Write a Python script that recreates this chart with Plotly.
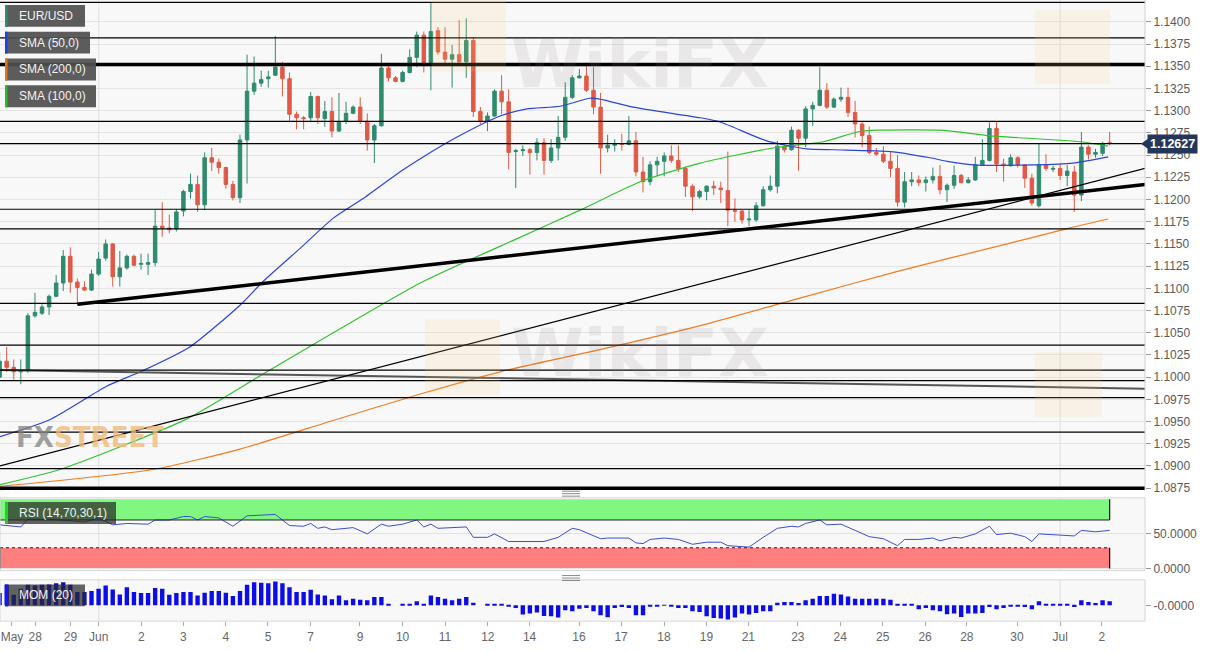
import plotly.graph_objects as go

# ---------------- DATA ----------------
bar_open = [1.1000, 1.1018, 1.1011, 1.1006, 1.1007, 1.1069, 1.1072, 1.1079, 1.1091, 1.1106,
            1.1136, 1.1107, 1.1101, 1.1098, 1.1116, 1.1134, 1.1150, 1.1113, 1.1123, 1.1136,
            1.1127, 1.1127, 1.1129, 1.1170, 1.1168, 1.1167, 1.1187, 1.1209, 1.1217, 1.1194,
            1.1247, 1.1242, 1.1236, 1.1217, 1.1202, 1.1267, 1.1322, 1.1331, 1.1336, 1.1340,
            1.1349, 1.1336, 1.1296, 1.1292, 1.1292, 1.1316, 1.1291, 1.1299, 1.1277, 1.1288,
            1.1297, 1.1304, 1.1288, 1.1267, 1.1283, 1.1348, 1.1337, 1.1333, 1.1343, 1.1360,
            1.1385, 1.1354, 1.1390, 1.1366, 1.1358, 1.1363, 1.1355, 1.1379, 1.1299, 1.1288,
            1.1294, 1.1322, 1.1310, 1.1254, 1.1255, 1.1256, 1.1253, 1.1264, 1.1244, 1.1258,
            1.1270, 1.1315, 1.1337, 1.1339, 1.1323, 1.1304, 1.1258, 1.1261, 1.1263, 1.1262,
            1.1266, 1.1231, 1.1220, 1.1239, 1.1243, 1.1249, 1.1244, 1.1235, 1.1215, 1.1203,
            1.1209, 1.1215, 1.1213, 1.1210, 1.1188, 1.1187, 1.1177, 1.1177, 1.1193, 1.1211,
            1.1215, 1.1260, 1.1256, 1.1278, 1.1269, 1.1302, 1.1306, 1.1323, 1.1304, 1.1313,
            1.1315, 1.1298, 1.1285, 1.1272, 1.1253, 1.1251, 1.1243, 1.1235, 1.1197, 1.1220,
            1.1222, 1.1219, 1.1222, 1.1226, 1.1211, 1.1216, 1.1227, 1.1219, 1.1222, 1.1239,
            1.1244, 1.1280, 1.1240, 1.1238, 1.1247, 1.1239, 1.1224, 1.1193, 1.1239, 1.1234,
            1.1235, 1.1227, 1.1231, 1.1205, 1.1259, 1.1251, 1.1252, 1.1264]
bar_high = [1.1028, 1.1034, 1.1020, 1.1020, 1.1072, 1.1095, 1.1082, 1.1093, 1.1115, 1.1143,
            1.1146, 1.1111, 1.1108, 1.1121, 1.1141, 1.1155, 1.1151, 1.1142, 1.1138, 1.1138,
            1.1139, 1.1139, 1.1188, 1.1197, 1.1183, 1.1189, 1.1211, 1.1229, 1.1227, 1.1253,
            1.1258, 1.1246, 1.1237, 1.1221, 1.1273, 1.1363, 1.1361, 1.1345, 1.1345, 1.1384,
            1.1355, 1.1343, 1.1299, 1.1294, 1.1321, 1.1317, 1.1311, 1.1315, 1.1320, 1.1310,
            1.1306, 1.1315, 1.1297, 1.1285, 1.1364, 1.1354, 1.1339, 1.1345, 1.1369, 1.1389,
            1.1389, 1.1421, 1.1394, 1.1394, 1.1374, 1.1402, 1.1404, 1.1383, 1.1304, 1.1298,
            1.1324, 1.1340, 1.1324, 1.1257, 1.1261, 1.1258, 1.1269, 1.1269, 1.1268, 1.1294,
            1.1332, 1.1340, 1.1347, 1.1354, 1.1349, 1.1320, 1.1273, 1.1268, 1.1274, 1.1294,
            1.1276, 1.1248, 1.1243, 1.1248, 1.1253, 1.1261, 1.1261, 1.1237, 1.1217, 1.1211,
            1.1216, 1.1221, 1.1220, 1.1254, 1.1201, 1.1188, 1.1188, 1.1197, 1.1215, 1.1227,
            1.1266, 1.1261, 1.1282, 1.1279, 1.1305, 1.1310, 1.1349, 1.1331, 1.1315, 1.1326,
            1.1326, 1.1311, 1.1287, 1.1282, 1.1258, 1.1260, 1.1254, 1.1250, 1.1231, 1.1231,
            1.1227, 1.1226, 1.1236, 1.1239, 1.1218, 1.1238, 1.1229, 1.1225, 1.1248, 1.1268,
            1.1287, 1.1288, 1.1246, 1.1251, 1.1249, 1.1240, 1.1229, 1.1263, 1.1251, 1.1238,
            1.1240, 1.1239, 1.1238, 1.1276, 1.1261, 1.1257, 1.1265, 1.1276]
bar_low = [1.0998, 1.1006, 1.0997, 1.0992, 1.1005, 1.1067, 1.1070, 1.1070, 1.1090, 1.1097,
           1.1095, 1.1082, 1.1097, 1.1097, 1.1114, 1.1131, 1.1102, 1.1102, 1.1121, 1.1125,
           1.1121, 1.1115, 1.1125, 1.1158, 1.1162, 1.1164, 1.1181, 1.1201, 1.1186, 1.1188,
           1.1232, 1.1229, 1.1212, 1.1199, 1.1196, 1.1218, 1.1318, 1.1327, 1.1326, 1.1339,
           1.1316, 1.1287, 1.1279, 1.1279, 1.1287, 1.1285, 1.1282, 1.1270, 1.1276, 1.1285,
           1.1296, 1.1285, 1.1255, 1.1241, 1.1282, 1.1333, 1.1332, 1.1332, 1.1342, 1.1349,
           1.1343, 1.1323, 1.1363, 1.1352, 1.1326, 1.1352, 1.1337, 1.1293, 1.1285, 1.1277,
           1.1293, 1.1296, 1.1234, 1.1213, 1.1249, 1.1228, 1.1244, 1.1228, 1.1241, 1.1244,
           1.1266, 1.1313, 1.1336, 1.1321, 1.1296, 1.1229, 1.1253, 1.1254, 1.1255, 1.1261,
           1.1226, 1.1208, 1.1216, 1.1226, 1.1226, 1.1241, 1.1231, 1.1203, 1.1187, 1.1201,
           1.1199, 1.1205, 1.1196, 1.1170, 1.1175, 1.1173, 1.1170, 1.1175, 1.1192, 1.1209,
           1.1207, 1.1253, 1.1255, 1.1232, 1.1259, 1.1283, 1.1305, 1.1302, 1.1303, 1.1310,
           1.1293, 1.1270, 1.1259, 1.1251, 1.1249, 1.1241, 1.1225, 1.1192, 1.1191, 1.1215,
           1.1215, 1.1209, 1.1218, 1.1206, 1.1197, 1.1212, 1.1218, 1.1218, 1.1221, 1.1239,
           1.1243, 1.1231, 1.1220, 1.1237, 1.1236, 1.1213, 1.1193, 1.1191, 1.1232, 1.1231,
           1.1222, 1.1215, 1.1186, 1.1198, 1.1245, 1.1247, 1.1249, 1.1261]
bar_close = [1.1018, 1.1011, 1.1006, 1.1007, 1.1069, 1.1073, 1.1079, 1.1091, 1.1106, 1.1136,
             1.1107, 1.1101, 1.1098, 1.1116, 1.1133, 1.1150, 1.1113, 1.1123, 1.1136, 1.1126,
             1.1128, 1.1129, 1.1170, 1.1168, 1.1166, 1.1186, 1.1209, 1.1217, 1.1194, 1.1247,
             1.1242, 1.1236, 1.1217, 1.1202, 1.1267, 1.1322, 1.1331, 1.1335, 1.1338, 1.1349,
             1.1336, 1.1296, 1.1292, 1.1291, 1.1316, 1.1292, 1.1299, 1.1277, 1.1287, 1.1297,
             1.1304, 1.1288, 1.1267, 1.1283, 1.1348, 1.1337, 1.1333, 1.1343, 1.1360, 1.1385,
             1.1354, 1.1389, 1.1366, 1.1358, 1.1363, 1.1355, 1.1379, 1.1299, 1.1288, 1.1294,
             1.1322, 1.1310, 1.1253, 1.1255, 1.1256, 1.1253, 1.1264, 1.1244, 1.1258, 1.1270,
             1.1315, 1.1337, 1.1339, 1.1323, 1.1304, 1.1258, 1.1261, 1.1263, 1.1262, 1.1266,
             1.1231, 1.1220, 1.1239, 1.1243, 1.1249, 1.1244, 1.1235, 1.1215, 1.1203, 1.1209,
             1.1215, 1.1213, 1.1211, 1.1188, 1.1187, 1.1177, 1.1178, 1.1193, 1.1211, 1.1215,
             1.1260, 1.1256, 1.1278, 1.1269, 1.1302, 1.1306, 1.1323, 1.1304, 1.1313, 1.1315,
             1.1298, 1.1285, 1.1272, 1.1253, 1.1251, 1.1243, 1.1235, 1.1197, 1.1220, 1.1222,
             1.1219, 1.1222, 1.1226, 1.1211, 1.1216, 1.1227, 1.1219, 1.1222, 1.1239, 1.1244,
             1.1280, 1.1240, 1.1238, 1.1247, 1.1239, 1.1224, 1.1196, 1.1239, 1.1235, 1.1235,
             1.1227, 1.1232, 1.1205, 1.1259, 1.1251, 1.1253, 1.1263, 1.1263]
bar_index = list(range(len(bar_open)))

sma50_x = [0.06, 7.1, 15.2, 19.9, 26.9, 34.0, 37.3, 42.5, 47.2, 51.4, 56.6, 59.5, 65.1, 70.8,
           74.6, 79.3, 83.5, 84.9, 89.6, 99.1, 102.0, 108.5, 114.2, 118.0, 126.0, 131.6, 134.0,
           137.7, 146.2, 151.8, 156.8]
sma50_y = [1.0933, 1.0952, 1.0990, 1.1006, 1.1034, 1.1081, 1.1108, 1.1145, 1.1179, 1.1201,
           1.1231, 1.1246, 1.1272, 1.1294, 1.1302, 1.1305, 1.1314, 1.1313, 1.1304, 1.1292,
           1.1287, 1.1266, 1.1257, 1.1256, 1.1254, 1.1247, 1.1243, 1.1239, 1.1239, 1.1241,
           1.1248]
sma100_x = [0.06, 8.5, 26.5, 37.8, 59.5, 73.2, 82.1, 90.6, 99.1, 109.4, 116.5, 121.3, 124.1,
            133.1, 139.7, 152.8, 156.8]
sma100_y = [1.0879, 1.0896, 1.0953, 1.1006, 1.1106, 1.1156, 1.1188, 1.1220, 1.1241, 1.1258,
            1.1265, 1.1276, 1.1278, 1.1278, 1.1272, 1.1265, 1.1260]
sma200_x = [0.06, 21.7, 34.0, 46.7, 59.5, 70.8, 84.9, 99.1, 113.2, 127.4, 141.5, 151.4, 156.8]
sma200_y = [1.0877, 1.0896, 1.0919, 1.0950, 1.0981, 1.1006, 1.1031, 1.1058, 1.1089, 1.1120,
            1.1148, 1.1168, 1.1178]

# drawn support / resistance levels
level_thin = [1.1422, 1.1382, 1.1288, 1.1263, 1.1189, 1.1167, 1.1083, 1.1036, 1.1008, 1.0996,
              1.0977, 1.0938, 1.0897]
level_thick = [1.1352, 1.0875]
trend_thick_x = [11, 162.0]
trend_thick_y = [1.1082, 1.1217]
trend_thin_x = [0.06, 162.0]
trend_thin_y = [1.0900, 1.1235]
trend_gray_x = [0.06, 162.0]
trend_gray_y = [1.1008, 1.0987]

rsi_x = [0, 3, 4, 7, 10, 12, 14, 16, 18, 21, 22, 24, 26, 27, 28, 29, 31, 33, 35, 39,
         41, 43, 44, 45, 46, 47, 50, 52, 54, 55, 57, 59, 60, 61, 62, 66, 67, 69, 70, 72,
         75, 77, 79, 81, 82, 85, 86, 89, 90, 91, 92, 94, 96, 98, 100, 102, 103, 106, 108, 110,
         112, 113, 114, 116, 117, 119, 121, 123, 125, 127, 128, 130, 132, 133, 135, 136, 138, 140, 141, 143,
         145, 146, 147, 149, 152, 153, 155, 157]
rsi_v = [63, 60, 71, 71, 69, 67, 73, 63, 65, 64, 70, 70, 75, 75, 70, 75, 73, 61, 76, 78,
         62, 61, 65, 58, 60, 56, 59, 50, 64, 61, 64, 70, 60, 64, 58, 60, 45, 45, 50, 39,
         39, 39, 45, 58, 56, 43, 44, 44, 37, 36, 42, 44, 42, 35, 38, 38, 33, 31, 45, 58,
         61, 60, 65, 70, 63, 64, 55, 46, 43, 33, 42, 42, 44, 40, 45, 44, 50, 61, 49, 51,
         46, 39, 50, 49, 47, 55, 53, 55]
rsi_upper, rsi_lower = 70, 30

# momentum (20), in arbitrary scaled units
mom = [37, 62, 32, 50, 62, 60, 62, 63, 67, 70, 62, 40, 40, 43, 50, 60, 48, 33, 55, 40,
       37, 37, 52, 50, 32, 37, 40, 40, 30, 38, 43, 43, 38, 28, 43, 62, 70, 68, 67, 72,
       67, 55, 40, 40, 47, 33, 30, 18, 30, 15, 20, 17, 15, 25, 25, 3, 0, 2, 5, 12,
       5, 30, 25, 20, 15, 20, 25, 8, 0, 2, 5, 5, -3, -8, -28, -25, -22, -32, -33, -37,
       -15, -18, -10, -8, -18, -30, -36, -8, -5, -8, -30, -30, -2, -2, -1, -2, -8, -8, -18, -20,
       -33, -38, -40, -43, -37, -25, -28, -23, -18, -18, 8, 10, 10, 7, 15, 20, 28, 28, 35, 33,
       27, 20, 20, 20, 20, 20, 17, 2, 2, 2, -12, -8, -15, -18, -27, -25, -35, -25, -25, -23,
       -5, -12, -8, -2, -2, -5, -12, 12, 3, 2, 2, 2, -5, 15, 10, 7, 15, 12]

tick_pos = [1.75, 5.03, 10.03, 14.02, 20.04, 26.0, 32.0, 37.96, 43.97, 50.97, 57.0, 63.0, 69.05,
            74.96, 81.95, 87.9, 93.97, 99.98, 105.9, 112.9, 118.9, 124.9, 130.9, 136.8, 143.9,
            150.0, 155.9]
tick_text = ["May", "28", "29", "Jun", "2", "3", "4", "5", "7", "9", "10", "11", "12", "14", "16",
             "17", "18", "19", "21", "23", "24", "25", "26", "28", "30", "Jul", "2"]
month_start = [14.02, 150.0]
price_ticks = [round(1.0875 + 0.0025 * k, 4) for k in range(22)]
last_price = "1.12627"
last_price_value = 1.12627

# ---------------- LAYOUT CONSTANTS ----------------
W, H = 1214, 652
PW = 1145
XR = [0.0566, 162.0]
YR = [1.08727, 1.14246]
MAIN_DOM = [1 - 494 / H, 1.0]
RSI_DOM = [1 - 575 / H, 1 - 501.7 / H]
MOM_DOM = [1 - 626 / H, 1 - 584.3 / H]
UP, DN = "#2e8b6f", "#df5a46"
FONT = "Liberation Sans, Arial, sans-serif"


def px(x):
    return x / W


def py(y):
    return 1 - y / H


fig = go.Figure()
fig.add_trace(go.Candlestick(
    x=bar_index, open=bar_open, high=bar_high, low=bar_low, close=bar_close,
    increasing=dict(line=dict(color=UP, width=1), fillcolor=UP),
    decreasing=dict(line=dict(color=DN, width=1), fillcolor=DN),
    whiskerwidth=0, xaxis="x", yaxis="y", showlegend=False, hoverinfo="skip"))

for xs, ys, col in [(sma200_x, sma200_y, "#f07c22"), (sma100_x, sma100_y, "#33c233"),
                    (sma50_x, sma50_y, "#2a46d8")]:
    fig.add_trace(go.Scatter(x=xs, y=ys, mode="lines", line=dict(color=col, width=1.2, shape="spline", smoothing=0.6),
                             xaxis="x", yaxis="y", showlegend=False, hoverinfo="skip"))

for xs, ys, col, w in [(trend_gray_x, trend_gray_y, "#555555", 2),
                       (trend_thin_x, trend_thin_y, "#000000", 1.2),
                       (trend_thick_x, trend_thick_y, "#000000", 3.5)]:
    fig.add_trace(go.Scatter(x=xs, y=ys, mode="lines", line=dict(color=col, width=w),
                             xaxis="x", yaxis="y", showlegend=False, hoverinfo="skip"))

fig.add_trace(go.Scatter(x=rsi_x, y=rsi_v, mode="lines", line=dict(color="#3a4fd0", width=1),
                         xaxis="x", yaxis="y2", showlegend=False, hoverinfo="skip"))
fig.add_trace(go.Bar(x=bar_index, y=mom, width=0.62, marker=dict(color="#0c0ce8", line=dict(width=0)),
                     xaxis="x", yaxis="y3", showlegend=False, hoverinfo="skip"))

shapes = []
# month separators
for m in month_start:
    for ref in ["y domain", "y2 domain", "y3 domain"]:
        shapes.append(dict(type="line", xref="x", yref=ref, x0=m, x1=m, y0=0, y1=1,
                           line=dict(color="#dedede", width=1), layer="below"))
# horizontal drawn levels
for lv in level_thin:
    shapes.append(dict(type="line", xref="x domain", yref="y", x0=0, x1=1, y0=lv, y1=lv,
                       line=dict(color="#000", width=1.2)))
for lv in level_thick:
    shapes.append(dict(type="line", xref="x domain", yref="y", x0=0, x1=1, y0=lv, y1=lv,
                       line=dict(color="#000", width=3.5)))
# RSI bands
last_i = bar_index[-1]
shapes.append(dict(type="rect", xref="x", yref="y2", x0=XR[0], x1=last_i, y0=rsi_upper, y1=100,
                   fillcolor="#80f780", line=dict(width=0), layer="below"))
shapes.append(dict(type="rect", xref="x", yref="y2", x0=XR[0], x1=last_i, y0=0, y1=rsi_lower,
                   fillcolor="#ff7f7f", line=dict(width=0), layer="below"))
shapes.append(dict(type="line", xref="x", yref="y2", x0=XR[0], x1=last_i, y0=rsi_upper, y1=rsi_upper,
                   line=dict(color="#222", width=1)))
shapes.append(dict(type="line", xref="x", yref="y2", x0=XR[0], x1=last_i, y0=rsi_lower, y1=rsi_lower,
                   line=dict(color="#222", width=1, dash="dot")))
for a, b in [(rsi_upper, 100), (0, rsi_lower)]:
    shapes.append(dict(type="line", xref="x", yref="y2", x0=last_i, x1=last_i, y0=a, y1=b,
                       line=dict(color="#111", width=1.2)))
shapes.append(dict(type="line", xref="x", yref="y2", x0=XR[0], x1=XR[0], y0=0, y1=rsi_lower,
                   line=dict(color="#111", width=1.2)))
# pane borders
for dom in [RSI_DOM, MOM_DOM]:
    shapes.append(dict(type="rect", xref="paper", yref="paper", x0=0, x1=PW / W, y0=dom[0], y1=dom[1],
                       line=dict(color="#d6d6d6", width=1), fillcolor="rgba(0,0,0,0)"))
shapes.append(dict(type="line", xref="paper", yref="paper", x0=PW / W, x1=PW / W,
                   y0=MAIN_DOM[0], y1=1, line=dict(color="#cfcfcf", width=1)))
# grip icons between panes
for gy in [495, 580]:
    for dy in [0, 2.5, 5]:
        shapes.append(dict(type="line", xref="paper", yref="paper", x0=px(562), x1=px(580),
                           y0=py(gy + dy), y1=py(gy + dy), line=dict(color="#8a8a8a", width=1)))

# watermark logos
for (x0, y0, x1, y1) in [(432, -8, 506, 72), (425, 322, 500, 398), (1035, 10, 1110, 85), (1035, 355, 1102, 420)]:
    shapes.append(dict(type="rect", xref="paper", yref="paper", x0=px(x0), x1=px(x1), y0=py(y1), y1=py(y0),
                       fillcolor="rgba(248,200,120,0.15)", line=dict(width=0)))

annotations = []
for (cx, cy) in [(640, 24), (640, 356)]:
    annotations.append(dict(xref="paper", yref="paper", x=px(cx), y=py(cy), text="<b>WikiFX</b>",
                            showarrow=False, font=dict(family="DejaVu Sans, sans-serif", size=66,
                                                       color="rgba(140,128,124,0.14)")))
annotations.append(dict(xref="paper", yref="paper", x=px(14), y=py(460), xanchor="left",
                        text="<b><span style='color:rgba(130,130,130,0.75)'>FX</span>"
                             "<span style='color:rgba(240,186,120,0.8)'>STREET</span></b>",
                        showarrow=False, font=dict(family="Liberation Sans Narrow, DejaVu Sans Condensed, sans-serif",
                                                   size=29)))

# legend boxes
legend_items = [("EUR/USD", UP, 5, 85, 5, 27), ("SMA (50,0)", "#1f3fe0", 5, 90, 32, 54),
                ("SMA (200,0)", "#e8701a", 5, 96, 59, 81), ("SMA (100,0)", "#22c022", 5, 96, 86, 108)]
for name, col, x0, x1, y0, y1 in legend_items:
    shapes.append(dict(type="rect", xref="paper", yref="paper", x0=px(x0), x1=px(x1), y0=py(y1), y1=py(y0),
                       fillcolor="rgba(80,80,80,0.93)", line=dict(width=0)))
    shapes.append(dict(type="rect", xref="paper", yref="paper", x0=px(x0), x1=px(x0 + 2.5), y0=py(y1), y1=py(y0),
                       fillcolor=col, line=dict(width=0)))
    annotations.append(dict(xref="paper", yref="paper", x=px(x0 + 12), y=py((y0 + y1) / 2), xanchor="left",
                            yanchor="middle", text=name, showarrow=False,
                            font=dict(family=FONT, size=12, color="#f2f2f2")))

for name, col, x0, x1, y0, y1 in [("RSI (14,70,30,1)", "#22d022", 5, 116, 506, 528),
                                   ("MOM (20)", "#1414ff", 5, 85, 589, 611)]:
    shapes.append(dict(type="rect", xref="paper", yref="paper", x0=px(x0), x1=px(x1), y0=py(y1), y1=py(y0),
                       fillcolor="rgba(40,40,40,0.72)", line=dict(width=0)))
    shapes.append(dict(type="rect", xref="paper", yref="paper", x0=px(x0), x1=px(x0 + 3), y0=py(y1), y1=py(y0),
                       fillcolor=col, line=dict(width=0)))
    annotations.append(dict(xref="paper", yref="paper", x=px(x0 + 12), y=py((y0 + y1) / 2), xanchor="left",
                            yanchor="middle", text=name, showarrow=False,
                            font=dict(family=FONT, size=12, color="#f2f2f2")))

# last price tag
tag_y = MAIN_DOM[0] + (last_price_value - YR[0]) / (YR[1] - YR[0]) * (MAIN_DOM[1] - MAIN_DOM[0])
shapes.append(dict(type="path", xref="paper", yref="paper",
                   path=f"M {px(1141)} {tag_y} L {px(1148)} {tag_y + 5 / H} L {px(1148)} {tag_y - 5 / H} Z",
                   fillcolor="#24375a", line=dict(width=0)))
annotations.append(dict(xref="paper", yref="paper", x=px(1147), y=tag_y, xanchor="left", yanchor="middle",
                        text=f"<b>{last_price}</b>", showarrow=False, bgcolor="#24375a",
                        borderpad=2, font=dict(family=FONT, size=12.5, color="white")))

axis_font = dict(family=FONT, size=12, color="#5a5a5a")
fig.update_layout(
    width=W, height=H, margin=dict(l=0, r=0, t=0, b=0),
    paper_bgcolor="white", plot_bgcolor="#f8f8f8", showlegend=False,
    bargap=0.38,
    xaxis=dict(domain=[0, PW / W], range=XR, anchor="y3", tickvals=tick_pos, ticktext=tick_text,
               ticks="outside", ticklen=4, tickcolor="#aaaaaa", showgrid=False, zeroline=False,
               showline=False, rangeslider=dict(visible=False), tickfont=dict(family=FONT, size=12, color="#666")),
    yaxis=dict(domain=MAIN_DOM, range=YR, side="right", anchor="x",
               tickvals=price_ticks, tickformat=".4f", ticks="outside", ticklen=5, tickcolor="#999",
               showgrid=True, gridcolor="#e4e4e4", zeroline=False, showline=False, tickfont=axis_font),
    yaxis2=dict(domain=RSI_DOM, range=[-2.9, 101.9], side="right", anchor="x", tickvals=[0, 50],
                ticktext=["0.0000", "50.0000"], ticks="outside", ticklen=5, tickcolor="#999",
                showgrid=True, gridcolor="#e2e2e2", zeroline=False, tickfont=axis_font),
    yaxis3=dict(domain=MOM_DOM, range=[-48, 77.1], side="right", anchor="x", tickvals=[0],
                ticktext=["-0.0000"], ticks="outside", ticklen=5, tickcolor="#999",
                showgrid=False, zeroline=False, tickfont=axis_font),
    shapes=shapes, annotations=annotations,
)

fig.write_html("out.html", config={"displayModeBar": False},
               post_script="document.body.style.margin='0';document.body.style.overflow='hidden';")
